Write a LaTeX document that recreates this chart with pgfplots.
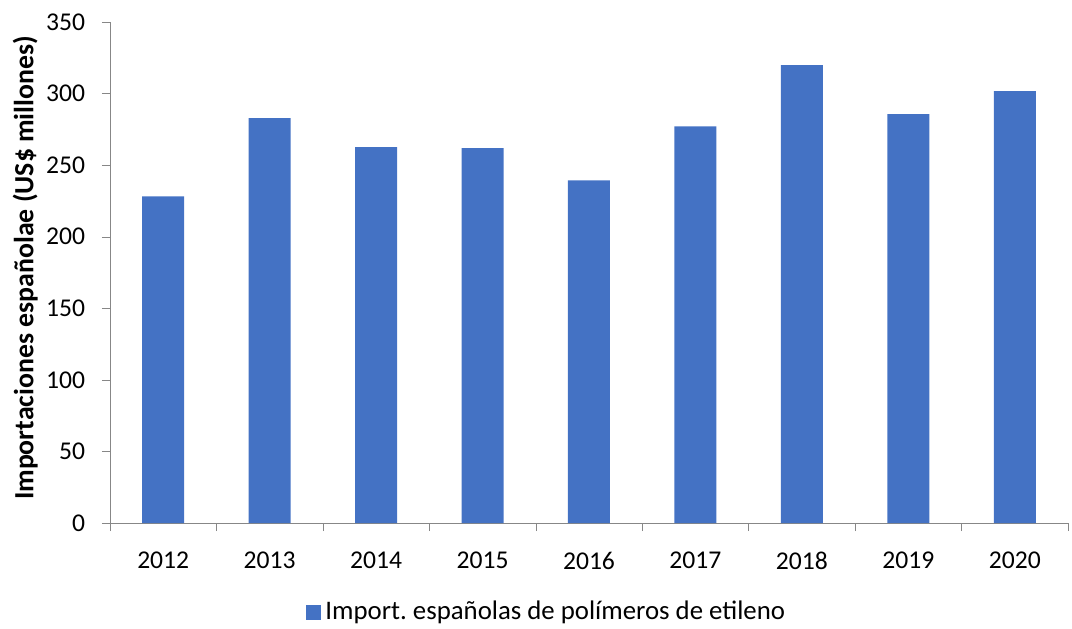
\documentclass[border=0pt]{standalone}
\usepackage{fontspec}
\setmainfont{Carlito}
\usepackage{pgfplots}
\pgfplotsset{compat=1.18}
\definecolor{barblue}{HTML}{4472C4}
\definecolor{axgray}{HTML}{878787}
\begin{document}
\frenchspacing
\fontsize{12.8}{15.4}\selectfont
\begin{tikzpicture}
\begin{axis}[
  scale only axis, width=479pt, height=250.5pt,
  xmin=-0.5, xmax=8.5, ymin=0, ymax=350,
  ybar, bar width=21pt,
  axis x line*=bottom, axis y line*=left,
  axis line style={axgray},
  xtick={0,...,8},
  xticklabels={2012,2013,2014,2015,2016,2017,2018,2019,2020},
  minor xtick={-0.5,0.5,...,8.5},
  major x tick style={draw=none},
  minor x tick style={axgray},
  ytick={0,50,...,350},
  y tick style={axgray},
  tick align=outside,
  major tick length=4pt, minor tick length=4pt,
  tick label style={font=\fontsize{12.8}{15.4}\selectfont, /pgf/number format/assume math mode=true},
  x tick label style={yshift=-6pt},
  y tick label style={xshift=-4pt},
  ylabel={\bfseries Importaciones españolae (US\$ millones)},
  ylabel style={at={(axis description cs:-0.0885,0.509)}, anchor=center, font=\fontsize{13.9}{16.6}\selectfont},
  legend style={at={(axis description cs:0.457,-0.178)}, anchor=center, draw=none, font=\fontsize{13.4}{16}\selectfont},
  legend image code/.code={\fill[barblue] (0pt,-3.75pt) rectangle (7.5pt,3.75pt);},
]
\addplot[fill=barblue, draw=none] coordinates {
  (0,228.1) (1,282.8) (2,262.6) (3,261.9) (4,239.3) (5,277.0) (6,319.8) (7,285.6) (8,301.7)
};
\addlegendentry{Import. españolas de polímeros de etileno}
\coordinate (O) at (rel axis cs:0,0);
\end{axis}
\pgfresetboundingbox
\path (O) ++(-55pt,-52.5pt) rectangle ++(536pt,314pt);
\end{tikzpicture}
\end{document}
